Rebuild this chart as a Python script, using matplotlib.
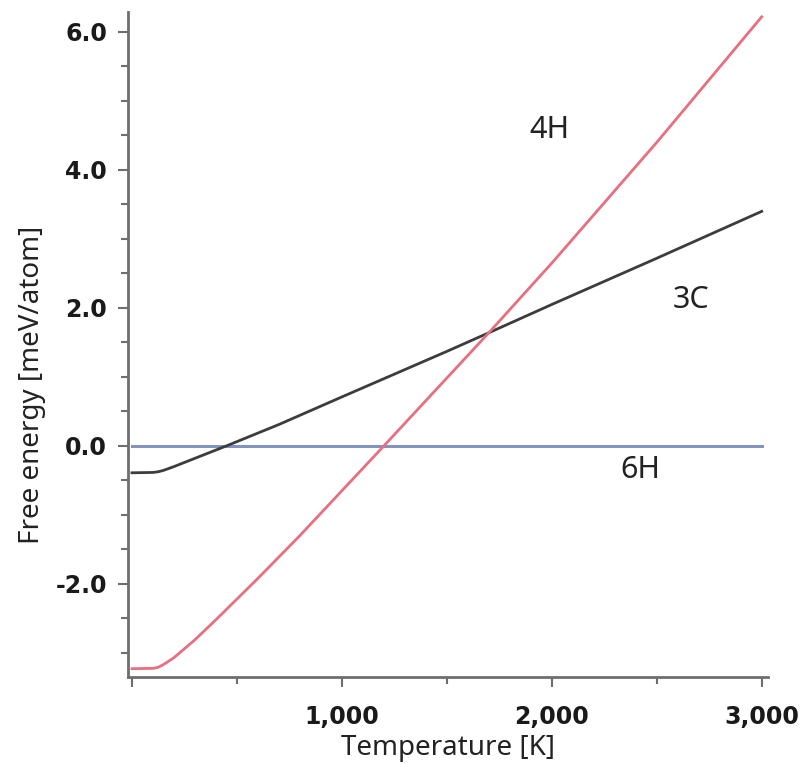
import numpy as np
import matplotlib
matplotlib.use("Agg")
import matplotlib.pyplot as plt
from matplotlib.ticker import MultipleLocator, FuncFormatter

plt.rcParams['font.family'] = ['Noto Sans', 'DejaVu Sans']

# free energy relative to 6H
temp_4h = [0, 100, 125, 150, 200, 300, 400, 500, 600, 800, 1000, 1200, 1700, 2000, 2500, 3000]
energy_4h = [-3.23, -3.225, -3.21, -3.17, -3.07, -2.81, -2.52, -2.22, -1.92, -1.30, -0.65, 0.0,
             1.64, 2.65, 4.40, 6.22]

temp_3c = [0, 100, 125, 150, 200, 300, 450, 700, 1000, 1500, 1700, 2000, 2500, 3000]
energy_3c = [-0.39, -0.385, -0.375, -0.355, -0.30, -0.18, 0.0, 0.31, 0.71, 1.37, 1.64, 2.05, 2.72, 3.40]

temp_6h = [0, 3000]
energy_6h = [0.0, 0.0]

# polytype labels: (text, T, energy)
labels = [("4H", 1990, 4.58), ("3C", 2665, 2.12), ("6H", 2420, -0.35)]

fig = plt.figure(figsize=(8.01, 7.64), dpi=100)
ax = fig.add_axes([0.1598, 0.1139, 0.799, 0.8704])

ax.plot(temp_6h, energy_6h, color="#8393c0", lw=2.2)
ax.plot(temp_3c, energy_3c, color="#3c3c3c", lw=2)
ax.plot(temp_4h, energy_4h, color="#e66f80", lw=2)

for txt, t, e in labels:
    ax.text(t, e, txt, fontsize=22, ha="center", va="center", color="#222222")

ax.set_xlim(-19, 3030)
ax.set_ylim(-3.35, 6.29)

ax.xaxis.set_major_locator(MultipleLocator(1000))
ax.xaxis.set_minor_locator(MultipleLocator(500))
ax.yaxis.set_major_locator(MultipleLocator(2))
ax.yaxis.set_minor_locator(MultipleLocator(0.5))
ax.xaxis.set_major_formatter(FuncFormatter(lambda v, p: "" if v == 0 else f"{int(v):,}"))
ax.yaxis.set_major_formatter(FuncFormatter(lambda v, p: f"{v:.1f}"))

for s in ["top", "right"]:
    ax.spines[s].set_visible(False)
for s in ["left", "bottom"]:
    ax.spines[s].set_color("#6e6e6e")
    ax.spines[s].set_linewidth(2)

ax.tick_params(which="major", length=7, width=1.5, color="#6e6e6e", labelsize=17)
ax.tick_params(axis="x", which="major", pad=13)
ax.tick_params(axis="y", which="major", pad=8)
ax.tick_params(which="minor", length=5, width=1.5, color="#6e6e6e")
for lab in ax.get_xticklabels() + ax.get_yticklabels():
    lab.set_family(['DejaVu Sans'])
    lab.set_fontweight("bold")
    lab.set_color("#1a1a1a")

ax.set_xlabel("Temperature [K]", fontsize=20, color="#222222", labelpad=4)
ax.set_ylabel("Free energy [meV/atom]", fontsize=20, color="#222222")
ax.yaxis.set_label_coords(-0.128, 0.44)

fig.savefig("out.png", dpi=100)
